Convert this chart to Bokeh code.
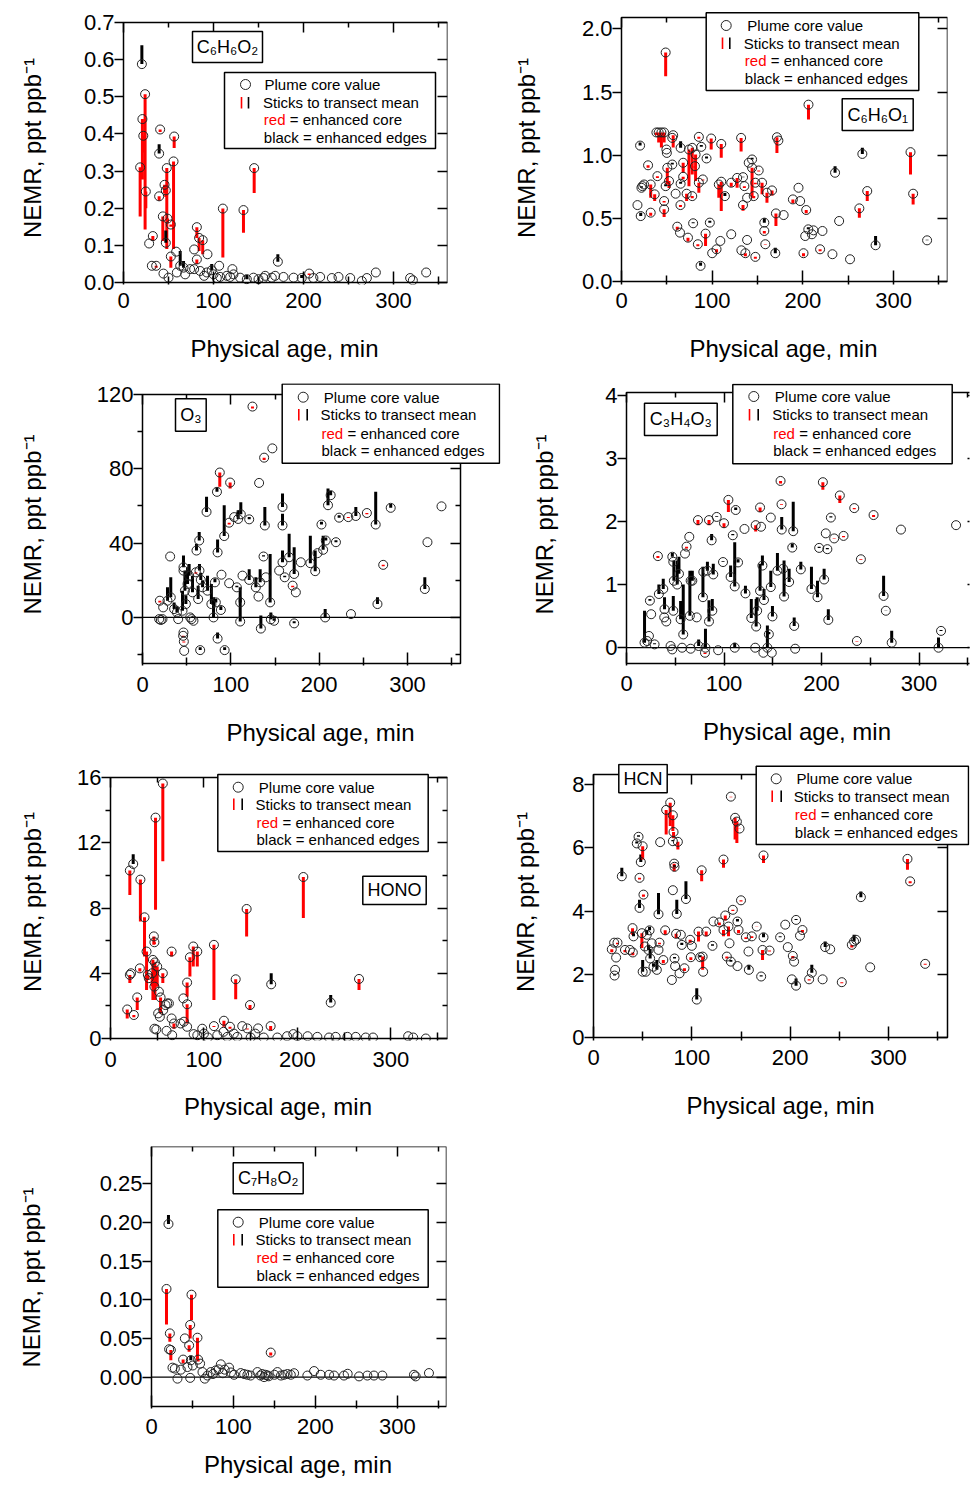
from bokeh.plotting import figure
from bokeh.models import (ColumnDataSource, FixedTicker, LinearAxis, Range1d,
                          BoxAnnotation, Label, NumeralTickFormatter,
                          CustomJSTickFormatter)
from bokeh.layouts import row, column
from bokeh.embed import file_html
from bokeh.resources import INLINE

FONT = "Liberation Sans"
RED = "#ff0000"
INK = "#000000"

x_major = [0, 100, 200, 300]
x_minor = [50, 150, 250, 350]
x_title = "Physical age, min"
y_title = "NEMR, ppt ppb\u207b\u00b9"
legend_text = ["Plume core value", "Sticks to transect mean", "red", "= enhanced core",
               "black = enhanced edges"]

# ---------------- C6H6O2 ----------------
c6h6o2_age = [20.4, 18.5, 21.0, 22.0, 24.0, 24.8, 28.5, 32.6, 31.5, 36.3,
              39.6, 40.7, 39.6, 43.7, 45.6, 47.0, 48.1, 47.0, 48.9, 52.6,
              55.6, 56.3, 52.6, 58.5, 63.0, 66.7, 81.5, 78.5, 81.5, 84.0,
              88.0, 93.3, 98.0, 106.3, 110.4, 121.0, 133.3, 145.2, 171.5, 206.3,
              280.4, 336.3, 318.5, 321.5, 264.8, 270.4, 251.9, 238.9, 231.5, 218.5,
              211.0, 198.0, 189.0, 177.8, 168.5, 157.4, 150.0, 144.4, 137.0, 129.6,
              122.2, 114.8, 107.4, 100.0, 92.6, 85.2, 74.0, 68.5, 59.3, 50.0,
              44.4, 78.5, 89.6, 103.7, 118.5, 155.6, 164.8]
c6h6o2_core = [0.588, 0.310, 0.440, 0.395, 0.507, 0.245, 0.105, 0.125, 0.045, 0.045,
               0.347, 0.412, 0.232, 0.178, 0.263, 0.248, 0.308, 0.107, 0.172, 0.156,
               0.326, 0.393, 0.070, 0.083, 0.045, 0.040, 0.149, 0.089, 0.062, 0.120,
               0.114, 0.076, 0.033, 0.045, 0.199, 0.036, 0.195, 0.308, 0.056, 0.024,
               0.027, 0.027, 0.012, 0.006, 0.004, 0.012, 0.012, 0.015, 0.012, 0.015,
               0.012, 0.012, 0.013, 0.015, 0.018, 0.018, 0.009, 0.013, 0.009, 0.013,
               0.022, 0.018, 0.015, 0.022, 0.027, 0.031, 0.036, 0.022, 0.027, 0.013,
               0.024, 0.036, 0.018, 0.012, 0.015, 0.012, 0.013]
c6h6o2_mean = [0.639, 0.178, 0.277, 0.350, 0.143, 0.200, 0.105, 0.112, 0.045, 0.040,
               0.372, 0.405, 0.220, 0.112, 0.240, 0.230, 0.090, 0.140, 0.160, 0.150,
               0.090, 0.362, 0.040, 0.083, 0.085, 0.058, 0.120, 0.089, 0.050, 0.085,
               0.076, 0.076, 0.050, 0.045, 0.067, 0.036, 0.134, 0.241, 0.076, 0.020,
               0.027, 0.027, 0.012, 0.006, 0.004, 0.012, 0.012, 0.015, 0.012, 0.015,
               0.012, 0.020, 0.013, 0.015, 0.018, 0.018, 0.009, 0.013, 0.020, 0.013,
               0.022, 0.018, 0.015, 0.022, 0.027, 0.031, 0.036, 0.022, 0.027, 0.013,
               0.024, 0.036, 0.018, 0.012, 0.015, 0.012, 0.013]

# ---------------- C6H6O1 ----------------
c6h6o1_age = [20.5, 17.6, 21.2, 23.1, 24.9, 22.0, 29.3, 32.2, 32.2, 36.6,
              39.6, 38.5, 41.0, 44.0, 47.0, 47.0, 47.0, 48.7, 49.5, 50.0,
              48.7, 50.5, 52.4, 56.0, 57.0, 56.0, 59.7, 61.5, 64.5, 65.0,
              65.2, 65.2, 68.0, 68.0, 71.8, 73.3, 74.4, 78.0, 78.0, 79.0,
              81.7, 81.0, 84.2, 85.3, 85.3, 88.0, 87.2, 89.7, 92.7, 93.8,
              97.4, 98.9, 100.0, 104.8, 107.3, 109.0, 110.0, 110.0, 114.0, 121.0,
              121.0, 127.5, 131.9, 132.2, 134.0, 134.0, 135.5, 136.6, 138.5, 138.5,
              140.3, 144.0, 144.0, 145.8, 147.6, 147.6, 151.3, 155.0, 157.5, 157.5,
              158.6, 160.4, 166.0, 169.6, 170.3, 171.4, 173.0, 178.8, 189.0, 195.2,
              197.0, 200.7, 203.7, 202.6, 206.2, 206.0, 210.0, 211.7, 219.0, 221.6,
              232.6, 235.5, 240.0, 252.0, 262.3, 265.6, 271.0, 280.2, 318.7, 321.6,
              337.0]
c6h6o1_core = [1.076, 0.605, 0.518, 0.755, 0.768, 0.742, 0.920, 0.768, 0.545, 0.690,
               0.834, 1.180, 1.180, 1.180, 1.180, 0.637, 0.571, 1.813, 1.045, 1.018,
               0.755, 0.900, 0.795, 0.926, 1.158, 1.137, 0.695, 0.434, 0.387, 0.605,
               1.058, 0.774, 0.940, 0.829, 0.695, 0.347, 1.045, 0.676, 1.058, 0.461,
               1.005, 0.913, 0.295, 1.145, 0.782, 1.066, 0.124, 0.808, 0.379, 0.974,
               0.466, 1.132, 0.224, 0.255, 0.768, 0.321, 1.089, 0.790, 0.676, 0.782,
               0.374, 0.820, 1.137, 0.247, 0.826, 0.605, 0.755, 0.224, 0.329, 0.663,
               0.940, 0.966, 0.900, 0.676, 0.195, 0.782, 0.879, 0.782, 0.466, 0.400,
               0.295, 0.703, 0.721, 0.224, 0.539, 1.142, 1.116, 0.526, 0.650, 0.742,
               0.637, 0.224, 0.566, 0.360, 1.400, 0.413, 0.374, 0.405, 0.255, 0.400,
               0.216, 0.861, 0.479, 0.176, 0.579, 1.010, 0.716, 0.287, 1.024, 0.695,
               0.326]
c6h6o1_mean = [1.100, 0.605, 0.545, 0.755, 0.768, 0.755, 0.900, 0.663, 0.520, 0.637,
               0.820, 1.160, 1.100, 1.060, 1.100, 0.625, 0.510, 1.624, 1.045, 1.018,
               0.770, 0.770, 0.740, 0.940, 1.060, 1.137, 0.695, 0.410, 0.387, 0.590,
               1.110, 0.790, 0.860, 0.810, 0.637, 0.316, 0.755, 0.660, 0.847, 0.470,
               0.795, 0.900, 0.280, 1.130, 0.703, 1.080, 0.150, 0.800, 0.282, 0.990,
               0.480, 1.045, 0.224, 0.230, 0.663, 0.321, 0.979, 0.558, 0.700, 0.750,
               0.374, 0.742, 1.030, 0.247, 0.830, 0.560, 0.740, 0.200, 0.329, 0.663,
               0.940, 0.980, 0.663, 0.660, 0.180, 0.770, 0.870, 0.690, 0.500, 0.380,
               0.290, 0.624, 0.680, 0.268, 0.440, 1.018, 1.116, 0.526, 0.620, 0.742,
               0.637, 0.200, 0.540, 0.360, 1.282, 0.430, 0.374, 0.405, 0.240, 0.400,
               0.216, 0.913, 0.479, 0.176, 0.505, 1.058, 0.637, 0.360, 0.847, 0.610,
               0.330]

# ---------------- O3 ----------------
o3_age = [18.9, 20.8, 22.6, 19.6, 23.4, 31.3, 28.3, 32.0, 35.8, 39.0,
          40.4, 45.3, 46.4, 46.4, 46.4, 46.0, 46.8, 47.2, 48.0, 49.1,
          51.0, 52.8, 54.0, 55.5, 57.7, 56.6, 60.4, 61.1, 63.0, 64.2,
          64.5, 65.3, 66.0, 68.0, 72.5, 73.6, 78.0, 80.4, 82.0, 83.0,
          84.3, 87.5, 85.0, 85.0, 88.7, 89.4, 93.0, 92.5, 98.1, 98.1,
          99.2, 103.8, 106.8, 108.3, 110.6, 110.6, 111.3, 113.2, 120.8, 120.8,
          124.5, 128.3, 131.3, 132.0, 133.2, 134.0, 137.0, 137.7, 138.5, 139.6,
          144.5, 145.3, 147.0, 149.0, 154.7, 158.5, 158.5, 158.5, 161.0, 166.0,
          170.0, 171.7, 171.7, 173.6, 179.2, 190.0, 195.5, 198.1, 202.6, 204.5,
          206.8, 207.5, 210.0, 213.0, 219.0, 222.6, 233.0, 236.0, 241.5, 254.0,
          264.0, 266.0, 272.5, 281.0, 319.6, 322.6, 338.5]
o3_core = [-0.9, -1.4, -0.9, 9.0, 5.4, 32.8, 9.0, 10.8, 4.5, 2.7,
           -0.9, 3.6, 27.0, 25.2, -8.1, -9.9, -13.0, -18.0, 14.4, 7.2,
           18.0, 22.5, 0.0, -0.9, -1.8, 13.5, 24.3, 36.0, 9.9, 41.4,
           25.2, -17.6, 20.2, 16.2, 56.8, 14.4, 7.2, 0.0, 18.9, 8.1,
           67.6, 78.0, 35.0, -11.4, 4.0, 23.0, -17.6, 43.8, 51.0, 18.4,
           72.6, 54.0, 16.2, 53.0, -2.2, 8.1, 55.5, 22.5, 52.8, 20.2,
           113.5, 16.2, 11.2, 72.4, 18.9, -6.0, 32.8, 86.0, 49.5, 21.6,
           8.1, -1.0, 91.0, -1.8, 25.2, 59.5, 49.5, 29.7, 21.6, 32.4,
           17.1, -3.2, 23.4, 13.5, 29.7, 29.2, 24.9, 34.6, 50.0, 36.4,
           0.0, 41.4, 60.4, 65.8, 40.5, 53.7, 54.0, 1.8, 54.6, 56.2,
           50.0, 7.2, 28.3, 59.0, 15.3, 40.5, 59.8]
o3_mean = [-0.9, -1.4, -0.9, 8.0, 5.4, 32.8, 16.2, 21.6, 8.0, 6.0,
           -0.9, 14.4, 33.3, 25.2, -8.1, -10.5, -13.5, -18.0, 25.2, 12.0,
           27.0, 28.8, 0.0, -0.9, -1.8, 22.5, 23.5, 39.6, 17.1, 46.0,
           28.8, -16.0, 24.0, 20.0, 64.9, 22.5, 18.0, 10.8, 21.0, 10.0,
           70.0, 70.3, 42.0, -8.1, 6.0, 23.0, -16.0, 60.4, 50.0, 18.4,
           69.4, 54.0, 17.0, 57.7, 10.8, 16.2, 62.0, 22.5, 54.0, 26.0,
           112.5, 21.6, 11.2, 72.4, 26.0, 1.0, 33.5, 84.8, 59.5, 21.6,
           34.2, 2.7, 91.0, -0.5, 25.2, 66.7, 55.8, 36.0, 22.5, 45.0,
           16.2, -2.0, 37.8, 13.5, 29.7, 44.0, 36.0, 34.6, 51.5, 44.0,
           4.5, 43.0, 69.4, 68.0, 41.5, 55.0, 53.5, 1.8, 59.5, 55.5,
           67.6, 10.8, 27.6, 61.0, 21.6, 40.5, 59.8]

# ---------------- C3H4O3 ----------------
c3h4o3_age = [18.5, 21.2, 23.0, 24.0, 25.3, 28.8, 32.2, 33.2, 37.7, 38.7,
              40.8, 39.0, 45.2, 46.9, 48.0, 47.0, 48.6, 48.0, 52.0, 53.8,
              55.5, 57.0, 58.2, 60.0, 61.6, 64.4, 65.0, 65.8, 65.8, 67.5,
              72.0, 73.3, 74.0, 78.4, 78.8, 80.5, 81.0, 83.0, 84.6, 84.6,
              87.3, 89.0, 92.5, 94.0, 88.0, 99.0, 100.0, 104.5, 106.8, 109.0,
              111.0, 112.0, 114.4, 111.0, 121.0, 122.0, 128.0, 132.0, 132.5, 133.0,
              134.0, 137.0, 137.0, 138.0, 139.4, 141.0, 140.4, 144.5, 146.0, 148.0,
              148.0, 149.0, 149.7, 154.8, 159.0, 159.2, 158.0, 160.6, 161.6, 166.8,
              171.0, 172.0, 173.0, 170.0, 178.8, 189.7, 195.9, 197.6, 201.4, 202.7,
              204.4, 206.0, 207.0, 209.6, 213.0, 218.8, 222.6, 233.6, 236.3, 240.4,
              253.4, 263.7, 266.0, 272.0, 281.5, 320.0, 322.6, 338.0]
c3h4o3_core = [0.080, 0.106, 0.186, 0.745, 0.530, 0.053, 1.450, 0.850, 0.930, 0.480,
               0.415, 0.610, 0.027, -0.027, 0.585, 1.440, 1.060, 1.360, 1.000, 1.170,
               0.450, 0.000, 0.210, 1.490, 1.600, 1.755, 0.505, 1.060, -0.016, 1.060,
               0.480, 2.020, 0.027, 0.800, 1.200, -0.080, 0.000, 1.220, 0.415, 2.020,
               1.700, 1.160, 2.070, -0.040, 0.585, 1.356, 1.970, 2.340, 1.120, 1.780,
               0.970, 2.180, 1.350, 0.000, 1.880, 0.860, 0.470, 0.000, 1.940, 0.335,
               0.585, 0.900, 2.220, 1.915, 1.300, 0.755, -0.080, 0.000, 0.213, 2.060,
               0.960, -0.080, 0.495, 1.220, 2.270, 1.870, 2.640, 1.250, 0.810, 1.040,
               1.845, 0.345, -0.016, 1.585, 1.240, 0.930, 0.800, 1.580, 2.620, 1.080,
               1.810, 1.560, 0.440, 2.060, 1.730, 2.410, 1.770, 2.210, 0.106, 1.400,
               2.100, 0.820, 0.585, 0.080, 1.870, 0.000, 0.266, 1.940]
c3h4o3_mean = [0.585, 0.106, 0.186, 0.770, 0.530, 0.070, 1.420, 1.000, 1.090, 0.480,
               0.415, 0.800, 0.027, -0.027, 0.820, 1.500, 1.380, 1.360, 1.380, 1.440,
               0.740, 0.000, 1.000, 1.490, 1.570, 1.755, 1.220, 1.060, -0.016, 1.220,
               0.480, 1.940, 0.130, 1.280, 1.200, -0.100, 0.300, 1.360, 0.750, 1.940,
               1.800, 1.330, 2.080, -0.040, 0.770, 1.370, 1.900, 2.150, 1.300, 1.800,
               1.670, 2.220, 1.400, 0.080, 1.880, 0.980, 0.770, 0.000, 1.840, 0.770,
               0.800, 1.330, 2.150, 1.915, 1.460, 0.930, -0.080, 0.350, 0.250, 2.060,
               1.220, -0.080, 0.660, 1.500, 2.260, 2.070, 2.600, 1.250, 1.380, 1.250,
               2.310, 0.480, -0.016, 1.650, 1.360, 1.280, 1.060, 1.600, 2.500, 1.250,
               1.810, 1.580, 0.610, 2.080, 1.720, 2.290, 1.750, 2.190, 0.100, 1.390,
               2.070, 1.140, 0.590, 0.270, 1.870, 0.160, 0.280, 1.940]

# ---------------- HONO ----------------
hono_age = [17.9, 20.7, 20.7, 22.0, 24.3, 25.0, 28.6, 31.4, 32.0, 36.4,
            38.6, 40.0, 41.0, 44.6, 45.4, 46.4, 47.0, 47.5, 47.0, 47.0,
            49.0, 48.2, 50.0, 51.8, 53.6, 51.0, 52.8, 56.0, 56.0, 56.4,
            58.9, 60.7, 62.5, 60.0, 65.4, 65.4, 67.9, 66.0, 75.0, 78.6,
            78.0, 82.0, 82.0, 82.0, 85.0, 88.6, 92.9, 89.0, 92.9, 98.2,
            100.0, 104.3, 110.7, 110.7, 121.0, 121.4, 127.9, 134.0, 135.7, 141.0,
            145.7, 146.4, 149.3, 158.0, 171.4, 172.0, 178.6, 189.0, 195.7, 200.0,
            206.4, 211.0, 221.4, 233.9, 241.0, 253.6, 262.5, 273.2, 281.0, 235.7,
            266.0, 318.6, 324.0, 337.5, 114.3, 132.0, 150.0, 164.0, 125.0, 155.0]
hono_core = [1.78, 3.90, 10.30, 4.00, 10.70, 1.44, 2.52, 4.30, 9.74, 7.43,
             5.33, 3.90, 3.70, 4.00, 4.82, 6.26, 5.90, 4.66, 3.18, 0.60,
             0.55, 13.54, 4.41, 2.87, 2.52, 1.54, 1.33, 15.63, 4.00, 1.74,
             2.05, 2.15, 2.15, 0.47, 5.33, 1.23, 0.92, 0.20, 0.92, 1.03,
             2.46, 3.43, 2.10, 0.72, 4.98, 5.64, 5.33, 0.27, 0.20, 0.60,
             0.30, 0.06, 5.74, 0.76, 0.41, 1.09, 0.72, 3.63, 0.10, 0.76,
             7.94, 0.62, 2.05, 0.62, 0.76, 3.32, 0.06, 0.14, 0.27, 0.14,
             9.90, 0.14, 0.10, 0.06, 0.10, 0.10, 0.10, 0.06, 0.06, 2.20,
             3.65, 0.14, 0.06, 0.00, 0.20, 0.30, 0.06, 0.06, 0.10, 0.30]
hono_mean = [1.23, 3.40, 8.80, 4.00, 11.30, 1.30, 1.74, 4.10, 7.18, 5.03,
             2.97, 3.60, 3.70, 3.20, 2.36, 5.74, 5.80, 2.36, 3.18, 0.60,
             0.55, 7.90, 3.18, 2.87, 1.54, 1.54, 1.33, 10.87, 3.40, 1.74,
             2.05, 2.15, 2.15, 0.47, 5.03, 1.23, 0.60, 0.20, 0.92, 1.03,
             2.46, 2.56, 0.92, 0.72, 3.80, 4.41, 4.41, 0.27, 0.20, 0.60,
             0.30, 0.06, 2.36, 0.70, 0.41, 0.72, 0.60, 2.40, 0.10, 0.76,
             6.26, 0.55, 1.74, 0.62, 0.50, 4.00, 0.06, 0.14, 0.27, 0.14,
             7.38, 0.14, 0.10, 0.06, 0.10, 0.10, 0.10, 0.06, 0.06, 2.67,
             2.97, 0.14, 0.06, 0.00, 0.20, 0.30, 0.06, 0.06, 0.10, 0.30]

# ---------------- HCN ----------------
hcn_age = [18.6, 21.0, 21.4, 22.0, 23.0, 24.4, 28.8, 32.0, 37.0, 39.7,
           40.0, 40.7, 44.0, 45.8, 46.8, 46.8, 48.1, 49.2, 50.0, 50.8,
           50.0, 52.2, 53.2, 54.2, 56.0, 57.0, 57.6, 59.3, 61.0, 64.4,
           66.1, 66.1, 67.1, 67.8, 71.0, 72.9, 73.9, 78.0, 79.7, 80.7,
           80.7, 80.7, 81.4, 82.0, 82.4, 82.4, 83.0, 84.0, 84.7, 85.8,
           87.5, 88.8, 89.8, 92.5, 94.0, 98.3, 99.0, 100.0, 105.0, 106.8,
           108.5, 110.0, 111.0, 111.5, 114.6, 121.0, 122.0, 128.0, 132.2, 132.2,
           134.0, 135.6, 137.3, 138.3, 139.7, 139.7, 141.7, 144.0, 145.8, 146.4,
           147.5, 146.4, 148.5, 150.0, 155.0, 157.6, 158.0, 161.0, 166.0, 170.5,
           171.9, 172.9, 172.9, 179.0, 189.8, 195.0, 197.6, 201.7, 202.7, 204.0,
           206.0, 206.0, 210.0, 212.5, 219.3, 222.0, 233.0, 235.6, 240.7, 252.5,
           262.7, 265.0, 267.0, 271.9, 281.4, 319.3, 322.0, 337.3]
hcn_core = [2.79, 3.00, 1.96, 2.14, 2.53, 3.00, 5.10, 2.77, 2.77, 3.46,
            2.69, 3.20, 6.14, 6.35, 4.10, 5.05, 5.55, 3.30, 6.05, 4.52,
            2.08, 2.88, 2.08, 3.25, 2.77, 3.39, 2.50, 2.98, 2.24, 2.14,
            3.90, 2.77, 3.00, 6.18, 2.45, 3.39, 7.20, 7.43, 1.82, 7.03,
            4.66, 6.21, 6.50, 5.50, 5.40, 2.50, 2.26, 3.28, 3.91, 6.19,
            2.03, 3.25, 2.93, 2.19, 4.38, 3.09, 2.54, 2.90, 1.20, 3.35,
            2.54, 5.29, 2.56, 2.08, 3.35, 2.90, 3.67, 3.64, 5.63, 3.40,
            3.86, 2.56, 3.51, 2.98, 7.62, 2.40, 4.04, 6.95, 6.83, 3.67,
            3.40, 2.26, 6.61, 4.34, 3.17, 2.72, 2.14, 3.20, 3.51, 1.93,
            2.77, 3.17, 5.76, 2.75, 3.17, 3.57, 2.86, 1.84, 2.58, 2.40,
            1.64, 3.72, 3.22, 3.40, 1.84, 2.05, 1.84, 2.86, 2.79, 1.75,
            2.93, 3.04, 3.09, 4.44, 2.22, 5.65, 4.94, 2.33]
hcn_mean = [2.70, 3.00, 2.00, 2.14, 2.53, 2.95, 5.37, 2.70, 2.77, 3.25,
            2.60, 3.30, 6.20, 6.40, 4.36, 5.00, 5.79, 2.83, 5.63, 4.45,
            2.45, 2.88, 2.08, 3.40, 2.93, 3.50, 2.80, 2.98, 2.35, 2.45,
            4.57, 2.77, 2.95, 6.18, 2.35, 3.25, 6.42, 6.69, 1.82, 6.53,
            4.66, 6.25, 6.30, 5.26, 5.45, 2.55, 2.26, 3.15, 4.36, 5.95,
            2.03, 3.25, 3.00, 2.10, 4.94, 3.00, 2.45, 2.90, 1.56, 3.04,
            2.60, 4.94, 2.14, 2.08, 3.20, 2.95, 3.67, 3.55, 5.37, 3.20,
            3.70, 2.50, 3.20, 2.98, 7.60, 2.45, 4.00, 6.26, 6.15, 3.75,
            3.30, 2.26, 6.60, 4.30, 3.12, 2.72, 2.30, 3.15, 3.50, 1.97,
            2.45, 3.30, 5.52, 2.72, 3.20, 3.57, 2.86, 1.84, 2.50, 2.40,
            1.87, 3.75, 3.22, 3.32, 1.80, 2.30, 1.84, 3.04, 2.79, 1.72,
            2.85, 3.25, 3.09, 4.62, 2.22, 5.31, 4.88, 2.30]

# ---------------- C7H8O2 ----------------
c7h8o2_age = [20.7, 18.3, 22.4, 21.5, 23.6, 25.6, 28.5, 31.7, 35.8, 38.6,
              40.7, 43.9, 45.9, 47.2, 48.8, 47.2, 48.0, 50.4, 56.1, 56.9,
              59.3, 62.2, 65.0, 68.3, 72.4, 78.5, 84.6, 89.4, 94.7, 100.8,
              108.9, 121.0, 129.3, 137.4, 141.5, 145.5, 153.7, 161.8, 170.0, 174.0,
              190.2, 198.4, 206.5, 216.7, 222.8, 234.9, 239.4, 253.3, 263.4, 271.5,
              281.7, 320.3, 322.4, 338.6, 75.0, 82.0, 87.0, 97.0, 113.0, 117.0,
              133.0, 135.0, 139.0, 143.0, 150.0, 158.0, 166.0]
c7h8o2_core = [0.1978, 0.1139, 0.0565, 0.0360, 0.0350, 0.0122, 0.0110, -0.0020, 0.0096, 0.0226,
               0.0500, 0.0130, 0.0410, 0.0674, 0.1065, -0.0010, 0.0217, 0.0150, 0.0509, 0.0226,
               0.0174, 0.0065, -0.0020, 0.0020, 0.0065, 0.0087, 0.0165, 0.0096, 0.0122, 0.0030,
               0.0052, 0.0020, 0.0065, 0.0000, 0.0022, 0.0317, 0.0065, 0.0030, 0.0030, 0.0050,
               0.0020, 0.0078, 0.0030, 0.0030, 0.0020, 0.0020, 0.0043, 0.0009, 0.0020, 0.0020,
               0.0020, 0.0030, 0.0009, 0.0052, 0.0040, 0.0100, 0.0050, 0.0060, 0.0040, 0.0030,
               0.0020, 0.0040, 0.0030, 0.0010, 0.0030, 0.0020, 0.0040]
c7h8o2_mean = [0.2096, 0.0680, 0.0457, 0.0360, 0.0217, 0.0122, 0.0110, -0.0020, 0.0096, 0.0180,
               0.0500, 0.0130, 0.0326, 0.0500, 0.0739, -0.0010, 0.0280, 0.0150, 0.0217, 0.0200,
               0.0174, 0.0065, -0.0020, 0.0020, 0.0065, 0.0087, 0.0165, 0.0096, 0.0122, 0.0030,
               0.0052, 0.0020, 0.0065, 0.0000, 0.0022, 0.0280, 0.0065, 0.0030, 0.0030, 0.0050,
               0.0020, 0.0078, 0.0030, 0.0030, 0.0020, 0.0020, 0.0043, 0.0009, 0.0020, 0.0020,
               0.0020, 0.0030, 0.0009, 0.0052, 0.0040, 0.0100, 0.0050, 0.0060, 0.0040, 0.0030,
               0.0020, 0.0040, 0.0030, 0.0010, 0.0030, 0.0020, 0.0040]


def style_axis(ax):
    ax.axis_line_color = None
    ax.major_tick_line_width = 1.5
    ax.minor_tick_line_width = 1.5
    ax.major_tick_line_color = INK
    ax.minor_tick_line_color = INK
    ax.major_label_text_font = FONT
    ax.major_label_text_font_size = "22px"
    ax.major_label_text_color = INK
    ax.axis_label_text_font = FONT
    ax.axis_label_text_font_size = "24px"
    ax.axis_label_text_font_style = "normal"
    ax.axis_label_text_color = INK


def mirror_axis(ticker, loc):
    ax = LinearAxis(ticker=ticker, fixed_location=loc,
                    formatter=CustomJSTickFormatter(code="return ''"))
    style_axis(ax)
    ax.major_label_text_font_size = "0px"
    ax.major_label_standoff = 0
    ax.major_tick_in = 10
    ax.major_tick_out = 0
    ax.minor_tick_in = 5
    ax.minor_tick_out = 0
    return ax


def make_panel(spec, age, core, mean):
    ox, oy = spec["origin"]
    w, h = spec["size"]
    bL, bT, bR, bB = spec["box"]          # axes box, page pixels
    fT, fR, fB = spec["frame"]            # plot frame top / right / bottom, page pixels
    fL = bL - 2
    x0, x1 = spec["xr"]
    y0, y1 = spec["yr"]
    sx = (x1 - x0) / (bR - bL)
    sy = (y1 - y0) / (bB - bT)

    def dx(px):
        return x0 + (px - bL) * sx

    def dy(py):
        return y1 - (py - bT) * sy

    p = figure(width=w, height=h,
               x_range=Range1d(dx(fL), dx(fR)),
               y_range=Range1d(dy(fB), dy(fT)),
               output_backend="svg", toolbar_location=None, title=None,
               min_border_left=fL - ox, min_border_right=ox + w - fR,
               min_border_top=fT - oy, min_border_bottom=oy + h - fB)
    p.xgrid.visible = False
    p.ygrid.visible = False
    p.outline_line_color = None
    p.background_fill_color = "white"
    p.border_fill_color = "white"

    xt = FixedTicker(ticks=x_major, minor_ticks=x_minor)
    yt = FixedTicker(ticks=spec["yticks"], minor_ticks=spec["yminor"])

    gapB = fB - bB
    xa = p.xaxis[0]
    xa.ticker = xt
    style_axis(xa)
    xa.major_tick_in = 11 + gapB
    xa.major_tick_out = 0
    xa.minor_tick_in = 6 + gapB
    xa.minor_tick_out = 0
    xa.major_label_standoff = spec["xlab"] + 2 - gapB
    xa.axis_label = x_title
    xa.axis_label_standoff = spec["xtit"]

    ya = p.yaxis[0]
    ya.ticker = yt
    ya.formatter = NumeralTickFormatter(format=spec["yfmt"])
    style_axis(ya)
    ya.major_tick_in = 2
    ya.major_tick_out = 7
    ya.minor_tick_in = 2
    ya.minor_tick_out = 3
    ya.major_label_standoff = 0
    ya.axis_label = y_title
    ya.axis_label_standoff = spec["ytit"]

    p.add_layout(mirror_axis(xt, y1), "above")
    p.add_layout(mirror_axis(yt, x1), "right")

    # axes box
    p.add_layout(BoxAnnotation(left=x0, right=x1, bottom=y0, top=y1,
                               fill_color=None, fill_alpha=0, line_color=INK,
                               line_alpha=1.0, line_width=1.5))

    if spec["zero"]:
        p.segment(x0=[x0], y0=[0], x1=[x1], y1=[0], line_color=INK, line_width=1.2)

    n = min(len(age), len(core), len(mean))
    src = ColumnDataSource(dict(
        age=age[:n], core=core[:n], mean=mean[:n],
        color=[RED if c > m else INK for c, m in zip(core[:n], mean[:n])]))
    p.segment(x0="age", y0="core", x1="age", y1="mean", line_color="color",
              line_width=3, source=src)
    p.scatter(x="age", y="core", marker="circle", size=9, fill_color=None,
              line_color="#222222", line_width=1, source=src)

    # formula box
    ftxt, (fx0, fy0, fx1, fy1) = spec["formula"]
    p.add_layout(BoxAnnotation(left=dx(fx0), right=dx(fx1), top=dy(fy0), bottom=dy(fy1),
                               fill_color="white", fill_alpha=1.0, line_color=INK,
                               line_alpha=1.0, line_width=1.5))
    p.add_layout(Label(x=dx((fx0 + fx1) / 2), y=dy((fy0 + fy1) / 2), text=ftxt,
                       text_font=FONT, text_font_size="18px", text_color=INK,
                       text_align="center", text_baseline="middle"))

    # legend
    lg = spec["legend"]
    bx0, by0, bx1, by1 = lg["box"]
    p.add_layout(BoxAnnotation(left=dx(bx0), right=dx(bx1), top=dy(by0), bottom=dy(by1),
                               fill_color="white", fill_alpha=1.0, line_color=INK,
                               line_alpha=1.0, line_width=1.5))
    tx = lg["tx"]
    ty = lg["ty"]
    pieces = [(tx[0], ty[0], legend_text[0], INK),
              (tx[1], ty[1], legend_text[1], INK),
              (tx[2], ty[2], legend_text[2], RED),
              (tx[2] + 26, ty[2], legend_text[3], INK),
              (tx[3], ty[3], legend_text[4], INK)]
    for px, py, t, col in pieces:
        p.add_layout(Label(x=dx(px), y=dy(py), text=t, text_font=FONT,
                           text_font_size="15px", text_color=col,
                           text_align="left", text_baseline="middle"))
    cx, cy = lg["circle"]
    p.scatter(x=[dx(cx)], y=[dy(cy)], marker="circle", size=10, fill_color=None,
              line_color="#222222", line_width=1, level="overlay")
    sr, sk, sa, sb = lg["sticks"]
    p.segment(x0=[dx(sr), dx(sk)], y0=[dy(sa), dy(sa)], x1=[dx(sr), dx(sk)],
              y1=[dy(sb), dy(sb)], line_color=[RED, INK], line_width=1.6, level="overlay")
    return p


specs = [
    dict(origin=(0, 0), size=(490, 372), box=(123, 22, 447, 282), frame=(11, 447, 284),
         xr=(0, 360), yr=(0, 0.7),
         yticks=[0.0, 0.1, 0.2, 0.3, 0.4, 0.5, 0.6, 0.7], yminor=[], yfmt="0.0",
         ytit=35, xlab=8, xtit=24, zero=False,
         formula=("C\u2086H\u2086O\u2082", (192, 31, 262, 62)),
         legend=dict(box=(224, 72, 435, 148), circle=(245, 84), sticks=(241, 248, 96.5, 108),
                     tx=(264, 262.5, 263.3, 263.3), ty=(84, 102, 119.3, 137))),
    dict(origin=(490, 0), size=(480, 372), box=(621, 17, 947, 281), frame=(11, 947, 284),
         xr=(0, 359.5), yr=(0, 2.09),
         yticks=[0.0, 0.5, 1.0, 1.5, 2.0], yminor=[], yfmt="0.0",
         ytit=39, xlab=9, xtit=24, zero=False,
         formula=("C\u2086H\u2086O\u2081", (841.7, 98.3, 912.7, 130)),
         legend=dict(box=(705.7, 12.3, 918.3, 90), circle=(725.7, 25), sticks=(722, 729.3, 37, 48.5),
                     tx=(746.7, 743.3, 744.3, 744.3), ty=(25, 42.7, 60.3, 78))),
    dict(origin=(0, 372), size=(505, 380), box=(142, 394, 460, 663), frame=(383, 500, 665),
         xr=(0, 360), yr=(-24.8, 120),
         yticks=[0, 40, 80, 120], yminor=[-20, 20, 60, 100], yfmt="0",
         ytit=48, xlab=11, xtit=24, zero=True,
         formula=("O\u2083", (175, 398.3, 205.7, 430.7)),
         legend=dict(box=(281.7, 383.6, 499, 462.7), circle=(302.7, 396.7), sticks=(298.3, 306.7, 408.5, 420),
                     tx=(323.3, 320, 321, 321), ty=(396.7, 414.3, 432.7, 450.3))),
    dict(origin=(505, 372), size=(465, 380), box=(626, 392, 977, 663), frame=(383, 969, 665),
         xr=(0, 360), yr=(-0.25, 4.04),
         yticks=[0, 1, 2, 3, 4], yminor=[], yfmt="0",
         ytit=44, xlab=10, xtit=24, zero=True,
         formula=("C\u2083H\u2084O\u2083", (644, 402.7, 716.7, 435)),
         legend=dict(box=(732.3, 384, 951.7, 463.3), circle=(753.3, 396), sticks=(749, 757.7, 408.5, 420),
                     tx=(774.3, 771.7, 772.7, 772.7), ty=(396, 414.3, 432.7, 450.3))),
    dict(origin=(0, 752), size=(490, 374), box=(110, 777, 447, 1038), frame=(763, 447, 1040),
         xr=(0, 360.7), yr=(0, 16),
         yticks=[0, 4, 8, 12, 16], yminor=[2, 6, 10, 14], yfmt="0",
         ytit=28, xlab=11, xtit=23, zero=False,
         formula=("HONO", (362.3, 875.7, 425.7, 904)),
         legend=dict(box=(217.3, 774, 427.7, 851), circle=(237.7, 786.7), sticks=(233.3, 241.7, 798, 809.5),
                     tx=(258.3, 255, 256, 256), ty=(786.7, 804, 821.7, 839))),
    dict(origin=(490, 752), size=(480, 374), box=(593, 774, 947, 1037), frame=(763, 969, 1040),
         xr=(0, 360), yr=(0, 8.32),
         yticks=[0, 2, 4, 6, 8], yminor=[], yfmt="0",
         ytit=30, xlab=10, xtit=24, zero=False,
         formula=("HCN", (618.3, 764, 666.7, 792.3)),
         legend=dict(box=(755.7, 765.7, 968, 844), circle=(775.7, 778.3), sticks=(771.7, 780.7, 790, 801.5),
                     tx=(796, 793.3, 794.3, 794.3), ty=(778.3, 796, 813.7, 831.7))),
    dict(origin=(0, 1126), size=(490, 358), box=(151, 1146, 446, 1406), frame=(1146, 446, 1408),
         xr=(0, 360), yr=(-0.038, 0.298),
         yticks=[0.0, 0.05, 0.1, 0.15, 0.2, 0.25], yminor=[], yfmt="0.00",
         ytit=52, xlab=10, xtit=14, zero=True,
         formula=("C\u2087H\u2088O\u2082", (232.7, 1162.3, 302.7, 1193.3)),
         legend=dict(box=(217.3, 1209.3, 427.7, 1286.7), circle=(237.7, 1221.7), sticks=(233.3, 241.7, 1233.5, 1245),
                     tx=(258.3, 255, 256, 256), ty=(1221.7, 1239.3, 1257, 1274.7))),
]

p1 = make_panel(specs[0], c6h6o2_age, c6h6o2_core, c6h6o2_mean)
p2 = make_panel(specs[1], c6h6o1_age, c6h6o1_core, c6h6o1_mean)
p3 = make_panel(specs[2], o3_age, o3_core, o3_mean)
p4 = make_panel(specs[3], c3h4o3_age, c3h4o3_core, c3h4o3_mean)
p5 = make_panel(specs[4], hono_age, hono_core, hono_mean)
p6 = make_panel(specs[5], hcn_age, hcn_core, hcn_mean)
p7 = make_panel(specs[6], c7h8o2_age, c7h8o2_core, c7h8o2_mean)

layout = column(row(p1, p2, spacing=0), row(p3, p4, spacing=0),
                row(p5, p6, spacing=0), row(p7, spacing=0), spacing=0)

open("out.html", "w", encoding="utf-8").write(file_html(layout, INLINE, title="NEMR vs physical age"))
